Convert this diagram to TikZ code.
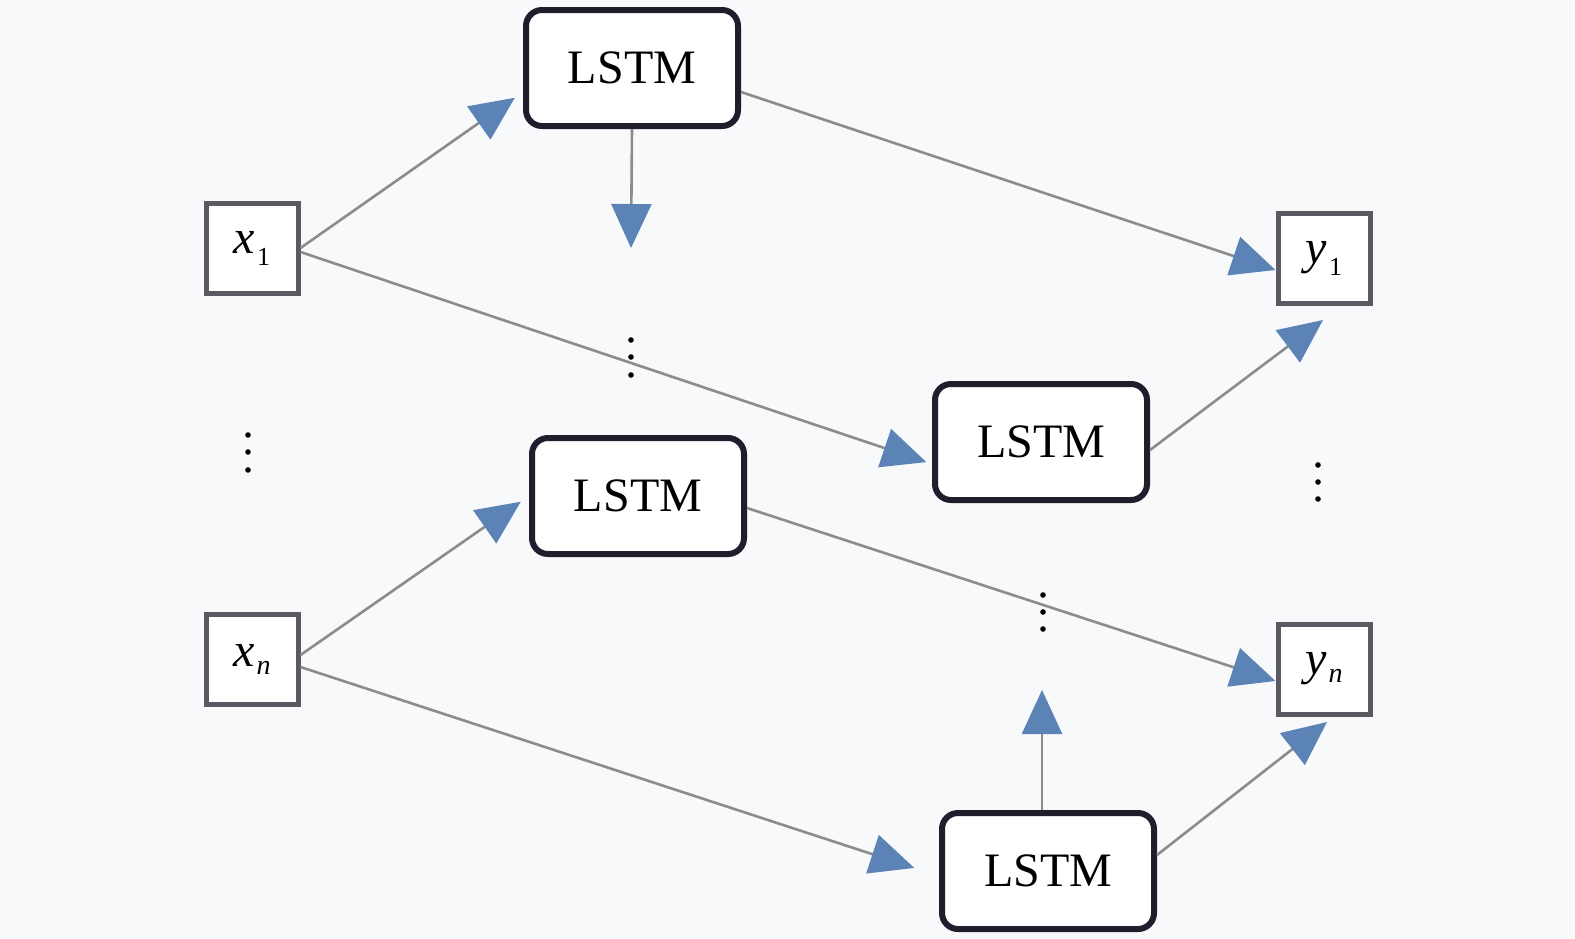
\documentclass[tikz,border=0pt]{standalone}
\usepackage{fontspec}
\setmainfont{Liberation Serif}
\usetikzlibrary{arrows.meta,calc}
\definecolor{bg}{HTML}{F8F9FB}
\definecolor{linegray}{HTML}{8C8C8C}
\definecolor{tipblue}{HTML}{5B83B5}
\definecolor{xborder}{HTML}{5A5A62}
\definecolor{lborder}{HTML}{1E1E2C}
\newcommand{\subone}{\raisebox{-6pt}{\fontsize{13}{15}\selectfont 1}}
\newcommand{\subn}{\raisebox{-4pt}{\fontsize{14}{16}\selectfont\itshape n}}
\begin{document}
\begin{tikzpicture}[x=0.5pt,y=-0.5pt,
  xbox/.style={draw=xborder,line width=2.5pt,fill=white,minimum width=46pt,minimum height=45pt,inner sep=0pt,font=\fontsize{24}{28}\selectfont},
  lstm/.style={draw=lborder,line width=3pt,fill=white,rounded corners=8pt,minimum width=106pt,minimum height=58pt,inner sep=0pt,font=\fontsize{24}{28}\selectfont},
  conn/.style={draw=linegray,line width=1.3pt,-{Triangle[length=22pt,width=20pt,color=tipblue]}}
]
\fill[bg] (0,0) rectangle (1575,938);
\useasboundingbox (0,0) rectangle (1575,938);

\node[xbox] (x1) at (252,248) {\textit{x}\kern1pt\subone};
\node[xbox] (xn) at (252,659) {\textit{x}\kern1pt\subn};
\node[xbox] (y1) at (1324,258) {\textit{y}\kern1pt\subone};
\node[xbox] (yn) at (1324,669) {\textit{y}\kern1pt\subn};

\node[lstm] (l1) at (632,68) {LSTM};
\node[lstm] (l2) at (1041,442) {LSTM};
\node[lstm] (l3) at (638,496) {LSTM};
\node[lstm] (l4) at (1048,871) {LSTM};

\coordinate (d1) at (631,248);
\coordinate (d2) at (1042,690);
\coordinate (t1) at (1323,320);
\coordinate (t2) at (1327,722);

\draw[conn,shorten >=5pt] (x1.east) -- ([yshift=-12pt]l1.west);
\draw[conn,shorten >=3pt] ([yshift=-2pt]x1.east) -- ([yshift=-11pt]l2.west);
\draw[conn] ([yshift=-12pt]l1.east) -- ([yshift=-6pt]y1.west);
\draw[conn] (l1.south) -- (d1);
\draw[conn] ([yshift=-4pt]l2.east) -- (t1);
\draw[conn,shorten >=5pt] ([yshift=2pt]xn.east) -- (l3.west);
\draw[conn,shorten >=13pt] ([yshift=-4pt]xn.east) -- ([yshift=-2.5pt]l4.west);
\draw[conn] ([yshift=-6pt]l3.east) -- ([yshift=-6pt]yn.west);
\draw[conn] (l4.north -| d2) -- (d2);
\draw[conn] ([yshift=8pt]l4.east) -- (t2);

\foreach \cx/\cy in {631/340,631/357,631/375, 248/435,248/452,248/470, 1318/465,1318/482,1318/499, 1043/595,1043/612,1043/629}
  \fill (\cx,\cy) circle (1.4pt);
\end{tikzpicture}
\end{document}
